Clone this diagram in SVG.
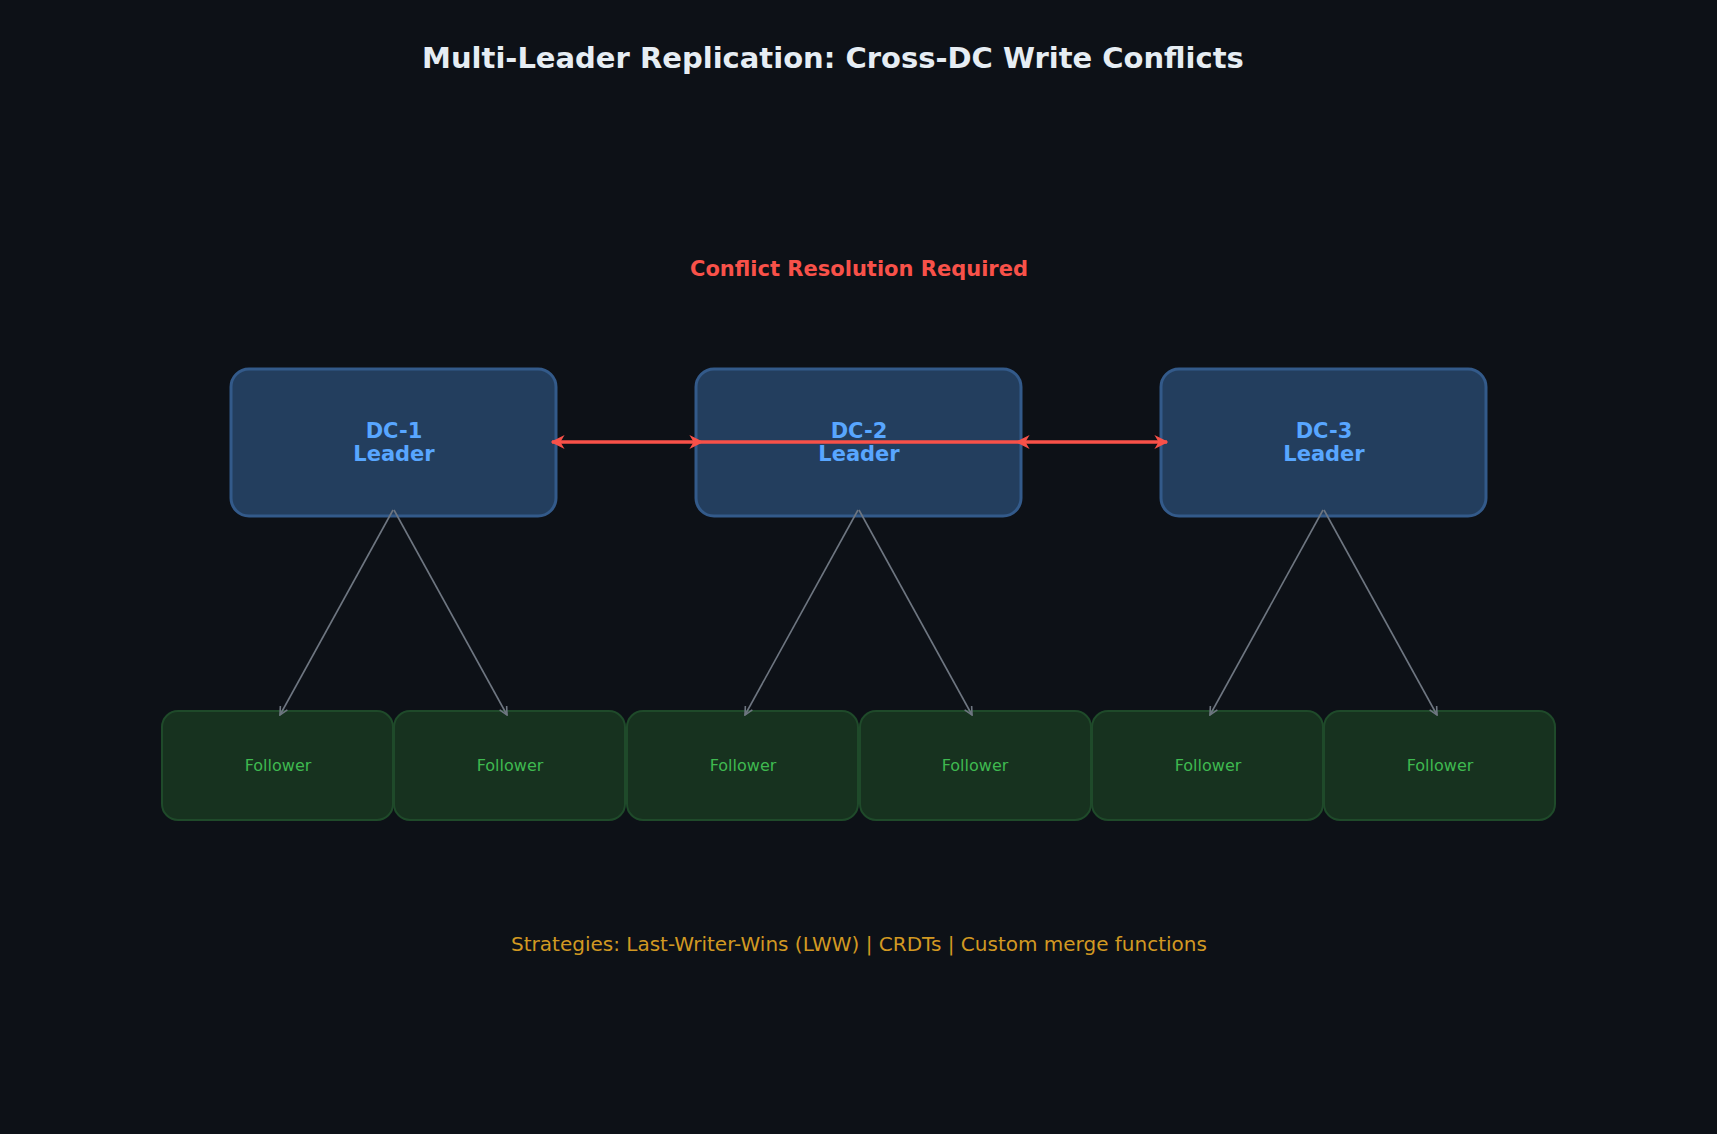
<svg xmlns="http://www.w3.org/2000/svg" width="1717" height="1134" viewBox="0 0 1717 1134">
<style>
.leader rect{fill:#233e5e;stroke:#335a8a;stroke-width:3}
.leader text{fill:#58a6ff;font:bold 21px "DejaVu Sans",sans-serif;text-anchor:middle}
.fol rect{fill:#17321f;stroke:#1f4a2a;stroke-width:2}
.fol text{fill:#3fb950;font:16px "DejaVu Sans",sans-serif;text-anchor:middle}
.rep{stroke:#6e7681;stroke-width:1.6;fill:none;marker-end:url(#g)}
.red{stroke:#f85149;stroke-width:3.5;fill:none}
</style>
<defs>
<marker id="g" viewBox="0 0 10 10" refX="9" refY="5" markerWidth="10" markerHeight="10" markerUnits="userSpaceOnUse" orient="auto"><path d="M1,1 L9,5 L1,9" fill="none" stroke="#6e7681" stroke-width="1.6"/></marker>
<marker id="r" viewBox="0 0 10 10" refX="9" refY="5" markerWidth="4" markerHeight="4" orient="auto-start-reverse"><path d="M0,0 L10,5 L0,10 L3,5 Z" fill="#f85149"/></marker>
</defs>
<rect width="1717" height="1134" fill="#0d1117"/>
<text x="833" y="68" fill="#e6edf3" font-family="DejaVu Sans,sans-serif" font-weight="bold" font-size="29" text-anchor="middle">Multi-Leader Replication: Cross-DC Write Conflicts</text>
<text x="859" y="276" fill="#f85149" font-family="DejaVu Sans,sans-serif" font-weight="bold" font-size="21" text-anchor="middle">Conflict Resolution Required</text>
<g id="dc1" class="leader"><rect x="231" y="369" width="325" height="147" rx="18"/><text x="394" y="438">DC-1</text><text x="394" y="461">Leader</text></g>
<g id="dc2" class="leader"><rect x="696" y="369" width="325" height="147" rx="18"/><text x="859" y="438">DC-2</text><text x="859" y="461">Leader</text></g>
<g id="dc3" class="leader"><rect x="1161" y="369" width="325" height="147" rx="18"/><text x="1324" y="438">DC-3</text><text x="1324" y="461">Leader</text></g>
<g id="f1" class="fol"><rect x="162" y="711" width="231" height="109" rx="16"/><text x="278" y="771">Follower</text></g>
<g id="f2" class="fol"><rect x="394" y="711" width="231" height="109" rx="16"/><text x="510" y="771">Follower</text></g>
<g id="f3" class="fol"><rect x="627" y="711" width="231" height="109" rx="16"/><text x="743" y="771">Follower</text></g>
<g id="f4" class="fol"><rect x="860" y="711" width="231" height="109" rx="16"/><text x="975" y="771">Follower</text></g>
<g id="f5" class="fol"><rect x="1092" y="711" width="231" height="109" rx="16"/><text x="1208" y="771">Follower</text></g>
<g id="f6" class="fol"><rect x="1324" y="711" width="231" height="109" rx="16"/><text x="1440" y="771">Follower</text></g>
<g id="connectors">
<path class="rep" d="M393,510 L280,715"/><path class="rep" d="M394,510 L507,715"/>
<path class="rep" d="M858,510 L745,715"/><path class="rep" d="M859,510 L972,715"/>
<path class="rep" d="M1323,510 L1210,715"/><path class="rep" d="M1324,510 L1437,715"/>
<path class="red" d="M702,442 L1017,442"/>
<path class="red" d="M552,442 L702,442" marker-start="url(#r)" marker-end="url(#r)"/>
<path class="red" d="M1017,442 L1167,442" marker-start="url(#r)" marker-end="url(#r)"/>
</g>
<text x="859" y="951" fill="#d29922" font-family="DejaVu Sans,sans-serif" font-size="20" text-anchor="middle">Strategies: Last-Writer-Wins (LWW) | CRDTs | Custom merge functions</text>
</svg>
